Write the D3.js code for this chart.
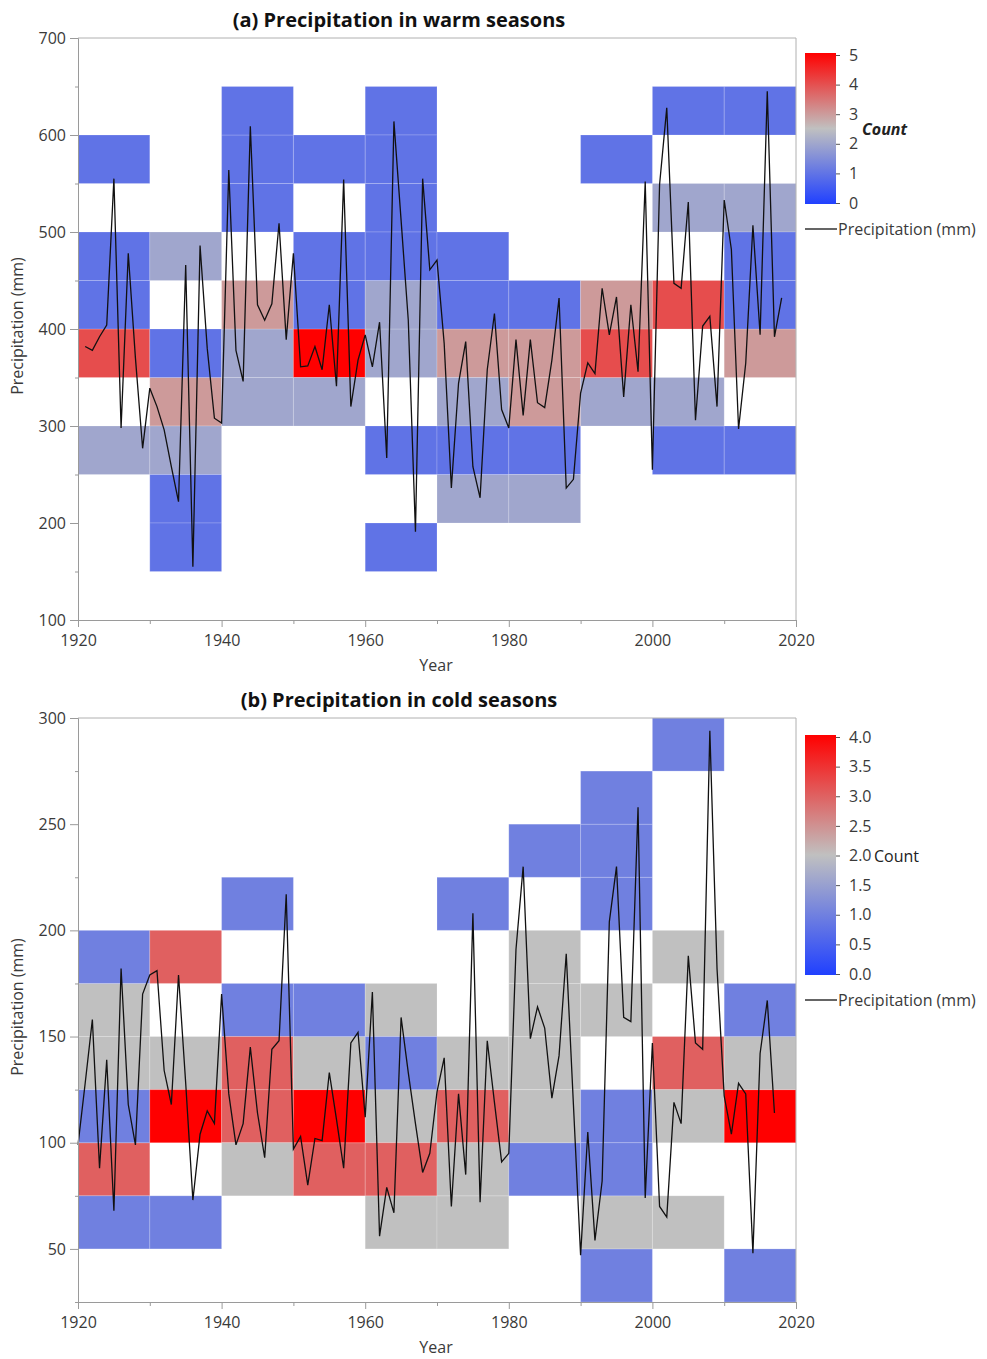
<!DOCTYPE html>
<html>
<head>
<meta charset="utf-8">
<script src="https://cdn.jsdelivr.net/npm/d3@7"></script>
<style>
	body{margin:0;background:#fff;font-family:"Open Sans",sans-serif;}
	.axis text{font-size:16px;fill:#3a3a3a;font-family:"Open Sans",sans-serif;}
	.axis path,.axis line{stroke:#9a9a9a;}
	.title{font-size:20px;font-weight:bold;fill:#111;}
	.lab{font-size:16px;fill:#3a3a3a;}
</style>
</head>
<body>
<div id="chart"></div>
<script>
// warm season precipitation (mm), 1921-2018
const warmYears = d3.range(1921, 2019);
const warmPrecip = [
	382, 378, 392, 404, 555, 298, 478, 370, 277,
	339, 320, 296, 258, 222, 466, 155, 486, 380, 308,
	303, 564, 378, 346, 609, 425, 409, 426, 509, 389,
	478, 361, 362, 382, 358, 425, 341, 554, 320, 368,
	394, 361, 407, 267, 614, 512, 409, 191, 555, 461,
	471, 385, 236, 344, 387, 258, 226, 358, 416, 317,
	298, 389, 311, 389, 324, 319, 368, 432, 236, 245,
	334, 365, 354, 442, 394, 433, 330, 425, 356, 552,
	255, 549, 628, 447, 442, 531, 306, 403, 413, 320,
	533, 482, 297, 365, 507, 394, 645, 392, 432
];

// cold season precipitation (mm), 1920-2017
const coldYears = d3.range(1920, 2018);
const coldPrecip = [
	99, 128, 158, 88, 139, 68, 182, 118, 99, 170,
	179, 181, 134, 118, 179, 128, 73, 104, 115, 109,
	170, 123, 99, 109, 145, 114, 93, 144, 148, 217,
	97, 103, 80, 102, 101, 133, 111, 88, 147, 152,
	112, 171, 56, 79, 67, 159, 133, 109, 86, 95,
	124, 140, 70, 123, 85, 208, 72, 148, 119, 91,
	95, 191, 230, 149, 164, 154, 121, 141, 189, 118,
	47, 105, 54, 82, 204, 230, 159, 157, 258, 74,
	147, 70, 65, 119, 109, 188, 147, 144, 294, 182,
	122, 104, 128, 123, 48, 142, 167, 114
];

const yearTicks = [1920, 1940, 1960, 1980, 2000, 2020];
const yearMinor = [1930, 1950, 1970, 1990, 2010];
const warmTicks = [100, 200, 300, 400, 500, 600, 700];
const warmMinor = [150, 250, 350, 450, 550, 650];
const coldTicks = [50, 100, 150, 200, 250, 300];
const coldMinor = [25, 75, 125, 175, 225, 275];
const warmCountTicks = [0, 1, 2, 3, 4, 5];
const coldCountTicks = [0, 0.5, 1, 1.5, 2, 2.5, 3, 3.5, 4];

const W = 987, H = 1359;
const svg = d3.select('#chart').append('svg')
	.attr('width', W).attr('height', H);
const defs = svg.append('defs');

function drawPanel(o){
	const x = d3.scaleLinear().domain([1920, 2020]).range([78, 796]);
	const y = d3.scaleLinear().domain(o.yDomain).range([o.bottom, o.top]);
	const color = d3.scaleLinear()
		.domain([0, o.maxCount / 2, o.maxCount])
		.range(['#2040ff', '#c0c0c0', '#ff0000']);

	const pts = o.years.map((yr, i) => ({yr: yr, v: o.values[i]}));

	// counts per decade and bin
	const cells = [];
	d3.rollups(pts, v => v.length,
		d => Math.floor(d.yr / 10) * 10,
		d => Math.floor(d.v / o.bin) * o.bin
	).forEach(([dec, bins]) => {
		bins.forEach(([b, n]) => cells.push({dec: dec, b: b, n: n}));
	});

	const g = svg.append('g');

	g.selectAll('.cell').data(cells).enter().append('rect')
		.attr('class', 'cell')
		.attr('x', d => x(d.dec))
		.attr('y', d => y(d.b + o.bin))
		.attr('width', d => x(d.dec + 10) - x(d.dec))
		.attr('height', d => y(d.b) - y(d.b + o.bin))
		.style('fill', d => color(d.n))
		.style('stroke', '#fff')
		.style('stroke-opacity', 0.18)
		.style('stroke-width', 1);

	// frame top / right
	g.append('path')
		.attr('d', `M78,${o.top}H796V${o.bottom}`)
		.style('fill', 'none').style('stroke', '#b0b0b0');

	g.append('path')
		.datum(pts)
		.attr('d', d3.line().x(d => x(d.yr)).y(d => y(d.v)))
		.style('fill', 'none').style('stroke', '#111').style('stroke-width', 1.3);

	// axes
	g.append('g').attr('class', 'axis')
		.attr('transform', 'translate(78,0)')
		.call(d3.axisLeft(y).tickValues(o.minor).tickSize(3).tickSizeOuter(0).tickFormat(''));
	g.append('g').attr('class', 'axis')
		.attr('transform', 'translate(78,0)')
		.call(d3.axisLeft(y).tickValues(o.ticks).tickSize(8).tickSizeOuter(0).tickPadding(4));
	g.append('g').attr('class', 'axis')
		.attr('transform', `translate(0,${o.bottom})`)
		.call(d3.axisBottom(x).tickValues(yearMinor).tickSize(4).tickSizeOuter(0).tickFormat(''));
	g.append('g').attr('class', 'axis')
		.attr('transform', `translate(0,${o.bottom})`)
		.call(d3.axisBottom(x).tickValues(yearTicks).tickSize(7).tickSizeOuter(0).tickFormat(d3.format('d')).tickPadding(8));

	g.append('text').attr('class', 'title')
		.attr('x', 399).attr('y', o.top - 11)
		.attr('text-anchor', 'middle')
		.text(o.title);

	g.append('text').attr('class', 'lab')
		.attr('x', 436).attr('y', o.bottom + 51)
		.attr('text-anchor', 'middle')
		.text('Year');

	g.append('text').attr('class', 'lab')
		.attr('transform', `translate(23,${(o.top + o.bottom) / 2 - 3}) rotate(-90)`)
		.attr('text-anchor', 'middle')
		.text('Precipitation (mm)');

	// colour legend
	const gradId = 'grad' + o.id;
	const grad = defs.append('linearGradient').attr('id', gradId)
		.attr('x1', 0).attr('y1', 1).attr('x2', 0).attr('y2', 0);
	[0, 0.5, 1].forEach(t => {
		grad.append('stop').attr('offset', t).attr('stop-color', color(t * o.maxCount));
	});

	const ly = d3.scaleLinear().domain([0, o.maxCount]).range([o.legBottom, o.legTop]);
	g.append('rect')
		.attr('x', 805).attr('y', o.legTop - 2)
		.attr('width', 31).attr('height', o.legBottom - o.legTop + 3)
		.style('fill', `url(#${gradId})`);

	const la = g.append('g').attr('class', 'axis')
		.attr('transform', 'translate(836,0)')
		.call(d3.axisRight(ly).tickValues(o.countTicks).tickSize(4).tickSizeOuter(0)
			.tickPadding(9).tickFormat(o.countFmt));
	la.select('.domain').remove();
	la.selectAll('line').style('stroke', '#555');

	g.append('text')
		.attr('x', o.countX).attr('y', ly(o.maxCount / 2) + 6)
		.style('font-size', '16px')
		.style('font-weight', o.countBold ? 'bold' : 'normal')
		.style('font-style', o.countBold ? 'italic' : 'normal')
		.style('fill', '#222')
		.text('Count');

	g.append('line')
		.attr('x1', 805).attr('x2', 837)
		.attr('y1', o.lineLeg).attr('y2', o.lineLeg)
		.style('stroke', '#111').style('stroke-width', 1.3);
	g.append('text').attr('class', 'lab')
		.attr('x', 838).attr('y', o.lineLeg + 6)
		.text('Precipitation (mm)');
}

drawPanel({
	id: 'a',
	title: '(a) Precipitation in warm seasons',
	years: warmYears, values: warmPrecip,
	bin: 50, yDomain: [100, 700], top: 38, bottom: 620,
	ticks: warmTicks, minor: warmMinor,
	maxCount: 5, countTicks: warmCountTicks, countFmt: d3.format('d'),
	legTop: 55, legBottom: 203, countX: 862, countBold: true,
	lineLeg: 229
});

drawPanel({
	id: 'b',
	title: '(b) Precipitation in cold seasons',
	years: coldYears, values: coldPrecip,
	bin: 25, yDomain: [25, 300], top: 718, bottom: 1302,
	ticks: coldTicks, minor: coldMinor,
	maxCount: 4, countTicks: coldCountTicks, countFmt: d3.format('.1f'),
	legTop: 737, legBottom: 974, countX: 874, countBold: false,
	lineLeg: 1000
});
</script>
</body>
</html>
